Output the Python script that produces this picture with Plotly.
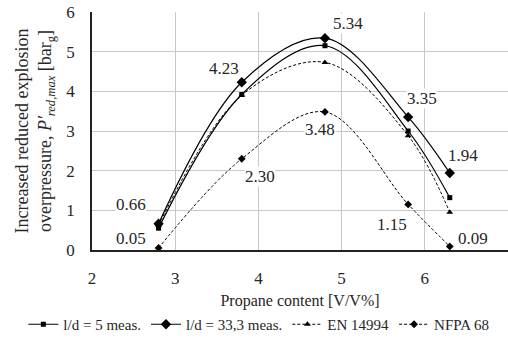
import plotly.graph_objects as go

x = [2.8, 3.8, 4.8, 5.8, 6.3]
ld5 = [0.55, 3.92, 5.15, 3.0, 1.32]
ld33 = [0.66, 4.23, 5.34, 3.35, 1.94]
en14994 = [0.62, 3.90, 4.73, 2.88, 0.95]
nfpa68 = [0.05, 2.30, 3.48, 1.15, 0.09]

names = ["l/d = 5 meas.", "l/d = 33,3 meas.", "EN 14994", "NFPA 68"]
label33 = ["0.66", "4.23", "5.34", "3.35", "1.94"]
labelNF = ["0.05", "2.30", "3.48", "1.15", "0.09"]

FONT = "Liberation Serif, Times New Roman, serif"
TXT = "#262626"
fig = go.Figure()

styles = [
    (ld5, "solid", "square", 5, 1.2),
    (ld33, "solid", "diamond", 8, 1.2),
    (en14994, "3px,2px", "triangle-up", 6, 1.0),
    (nfpa68, "3px,2px", "diamond", 6, 1.0),
]
for (ys, dash, sym, ms, lw), nm in zip(styles, names):
    fig.add_trace(go.Scatter(
        x=x, y=ys, name=nm, mode="lines+markers",
        line=dict(color="black", width=lw, dash=dash, shape="spline", smoothing=1),
        marker=dict(symbol=sym, size=ms, color="black"),
    ))

off33 = [(-28, 19), (-18, 14), (23, 15), (14, 19), (13, 18)]
offNF = [(-28, 10), (18, -18), (-5, -18), (-16, -20), (23, 8)]
for xs, ys, labs, offs in [(x, ld33, label33, off33), (x, nfpa68, labelNF, offNF)]:
    for xi, yi, t, (dx, dy) in zip(xs, ys, labs, offs):
        fig.add_annotation(x=xi, y=yi, text=t, showarrow=False, xshift=dx, yshift=dy,
                           bgcolor="white", font=dict(family=FONT, size=17, color=TXT),
                           borderpad=0)

fig.update_layout(
    width=508, height=341,
    margin=dict(l=92, r=0, t=12, b=91),
    paper_bgcolor="white", plot_bgcolor="white",
    font=dict(family=FONT, size=16, color=TXT),
    showlegend=True,
    legend=dict(orientation="h", x=-0.165, xanchor="left",
                y=-0.315, yanchor="middle",
                font=dict(family=FONT, size=15, color=TXT),
                itemwidth=30, tracegroupgap=0, bgcolor="rgba(0,0,0,0)"),
    xaxis=dict(range=[2, 7], dtick=1, showgrid=True, gridcolor="#c8c8c8", gridwidth=1,
               showline=True, linecolor="#222", linewidth=1.5, zeroline=False,
               ticks="", ticklabelstandoff=12, tickfont=dict(family=FONT, size=17, color=TXT),
               title=dict(text="Propane content [V/V%]", font=dict(family=FONT, size=16, color=TXT), standoff=8)),
    yaxis=dict(range=[0, 6], dtick=1, showgrid=True, gridcolor="#c8c8c8", gridwidth=1,
               showline=True, linecolor="#222", linewidth=1.5, zeroline=False,
               ticks="", ticklabelstandoff=12, tickfont=dict(family=FONT, size=17, color=TXT),
               title=dict(text="Increased reduced explosion<br>overpressure, <i>P′<sub>red,max</sub></i> [bar<sub>g</sub>]",
                          font=dict(family=FONT, size=18, color=TXT), standoff=10)),
)

fig.write_html("out.html")
